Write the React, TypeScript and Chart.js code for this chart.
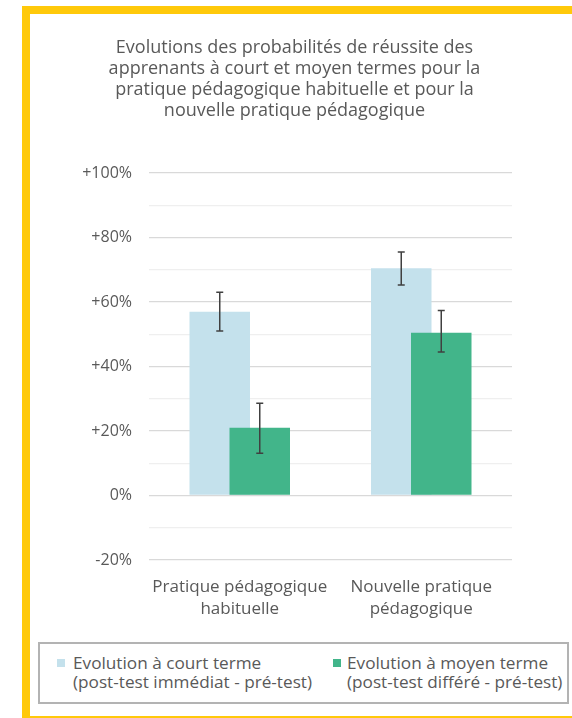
import React, { useEffect, useRef } from "react";
import { Chart, registerables } from "chart.js";

Chart.register(...registerables);

const titleLines = [
  "Evolutions des probabilités de réussite des",
  "apprenants à court et moyen termes pour la",
  "pratique pédagogique habituelle et pour la",
  "nouvelle pratique pédagogique",
];
const categories = [
  ["Pratique pédagogique", "habituelle"],
  ["Nouvelle pratique", "pédagogique"],
];
const shortLabel = ["Evolution à court terme", "(post-test immédiat - pré-test)"];
const midLabel = ["Evolution à moyen terme", "(post-test différé - pré-test)"];

const shortTerm = [57, 70.5];
const shortLow = [51, 65.3];
const shortHigh = [63, 75.5];
const midTerm = [21, 50.5];
const midLow = [13.1, 44.5];
const midHigh = [28.6, 57.4];

const yMin = -20;
const yMax = 100;
const yStep = 10;
const labelStep = 20;

const shortColor = "#C4E1EC";
const midColor = "#42B58A";
const textColor = "#595959";
const FONT = "'Open Sans', sans-serif";

const errorLows = [shortLow, midLow];
const errorHighs = [shortHigh, midHigh];

// Draw bars in dataset order (so the second series overlaps the first), then error bars.
const barsAndErrorsPlugin = {
  id: "barsAndErrors",
  beforeDatasetsDraw(chart: any) {
    const ctx = chart.ctx;
    const n = chart.data.datasets.length;
    for (let i = 0; i < n; i++) {
      const meta = chart.getDatasetMeta(i);
      if (!meta.hidden) meta.controller.draw();
    }
    const ys = chart.scales.y;
    for (let i = 0; i < n; i++) {
      const meta = chart.getDatasetMeta(i);
      meta.data.forEach((el: any, j: number) => {
        const x = el.x;
        const y1 = ys.getPixelForValue(errorLows[i][j]);
        const y2 = ys.getPixelForValue(errorHighs[i][j]);
        ctx.save();
        ctx.strokeStyle = "#404040";
        ctx.lineWidth = 1.5;
        ctx.beginPath();
        ctx.moveTo(x, y1);
        ctx.lineTo(x, y2);
        ctx.moveTo(x - 3.5, y1);
        ctx.lineTo(x + 3.5, y1);
        ctx.moveTo(x - 3.5, y2);
        ctx.lineTo(x + 3.5, y2);
        ctx.stroke();
        ctx.restore();
      });
    }
    return false;
  },
};

export default function App() {
  const ref = useRef<HTMLCanvasElement | null>(null);

  useEffect(() => {
    if (!ref.current) return;
    const chart = new Chart(ref.current, {
      type: "bar",
      data: {
        labels: categories as any,
        datasets: [
          {
            label: shortLabel.join(" "),
            data: shortTerm,
            backgroundColor: shortColor,
            categoryPercentage: 0.4408,
            barPercentage: 1.5125,
          },
          {
            label: midLabel.join(" "),
            data: midTerm,
            backgroundColor: midColor,
            categoryPercentage: 0.4408,
            barPercentage: 1.5125,
          },
        ],
      },
      options: {
        animation: false,
        responsive: false,
        devicePixelRatio: 1,
        layout: { padding: { left: 30, right: 13, top: 0, bottom: 4 } },
        plugins: {
          legend: { display: false },
          tooltip: { enabled: false },
          title: {
            display: true,
            text: titleLines,
            color: textColor,
            font: { family: FONT, size: 18, weight: "normal", lineHeight: "21px" as any },
            padding: { top: 37, bottom: 52 },
          },
        },
        scales: {
          x: {
            grid: { display: false, drawTicks: false },
            border: { display: false },
            ticks: {
              color: textColor,
              font: { family: FONT, size: 17, lineHeight: "22px" as any },
              padding: 16,
              maxRotation: 0,
              autoSkip: false,
            },
          },
          y: {
            min: yMin,
            max: yMax,
            border: { display: false },
            grid: {
              drawTicks: false,
              lineWidth: 1.3,
              color: (c: any) =>
                c.tick && c.tick.value % labelStep === 0 ? "#d9d9d9" : "#efefef",
            },
            ticks: {
              stepSize: yStep,
              padding: 17,
              color: textColor,
              font: { family: FONT, size: 16 },
              callback: (v: any) => {
                const n = Number(v);
                if (n % labelStep !== 0) return "";
                return n > 0 ? "+" + n + "%" : n + "%";
              },
            },
            afterFit: (s: any) => {
              s.width = 119;
            },
          },
          y2: {
            position: "right",
            display: true,
            grid: { display: false, drawTicks: false },
            border: { display: false },
            ticks: { display: false },
            afterFit: (s: any) => {
              s.width = 47;
            },
          },
        },
      },
      plugins: [barsAndErrorsPlugin],
    });
    return () => chart.destroy();
  }, []);

  const legendItem = (label: string[], color: string, sqLeft: number, txtLeft: number) => (
    <>
      <div
        style={{
          position: "absolute",
          left: sqLeft,
          top: 15,
          width: 8,
          height: 8,
          background: color,
        }}
      />
      <div
        style={{
          position: "absolute",
          left: txtLeft,
          top: 9,
          lineHeight: "19px",
          fontSize: 17.2,
          color: textColor,
          whiteSpace: "nowrap",
        }}
      >
        {label.map((l, k) => (
          <div key={k}>{l}</div>
        ))}
      </div>
    </>
  );

  return (
    <div
      style={{
        position: "absolute",
        left: 0,
        top: 0,
        width: 572,
        height: 718,
        overflow: "hidden",
        background: "#fff",
        fontFamily: FONT,
      }}
    >
      <div
        style={{
          position: "absolute",
          left: 22,
          top: 6,
          width: 600,
          height: 718,
          border: "8px solid #FFC90A",
          boxSizing: "border-box",
        }}
      />
      <canvas
        ref={ref}
        width={572}
        height={640}
        style={{ position: "absolute", left: 0, top: 0, width: 572, height: 640 }}
      />
      <div
        style={{
          position: "absolute",
          left: 38,
          top: 642,
          width: 531,
          height: 62,
          border: "2px solid #b3b3b3",
          boxSizing: "border-box",
        }}
      >
        {legendItem(shortLabel, shortColor, 17, 33)}
        {legendItem(midLabel, midColor, 293, 307)}
      </div>
    </div>
  );
}
